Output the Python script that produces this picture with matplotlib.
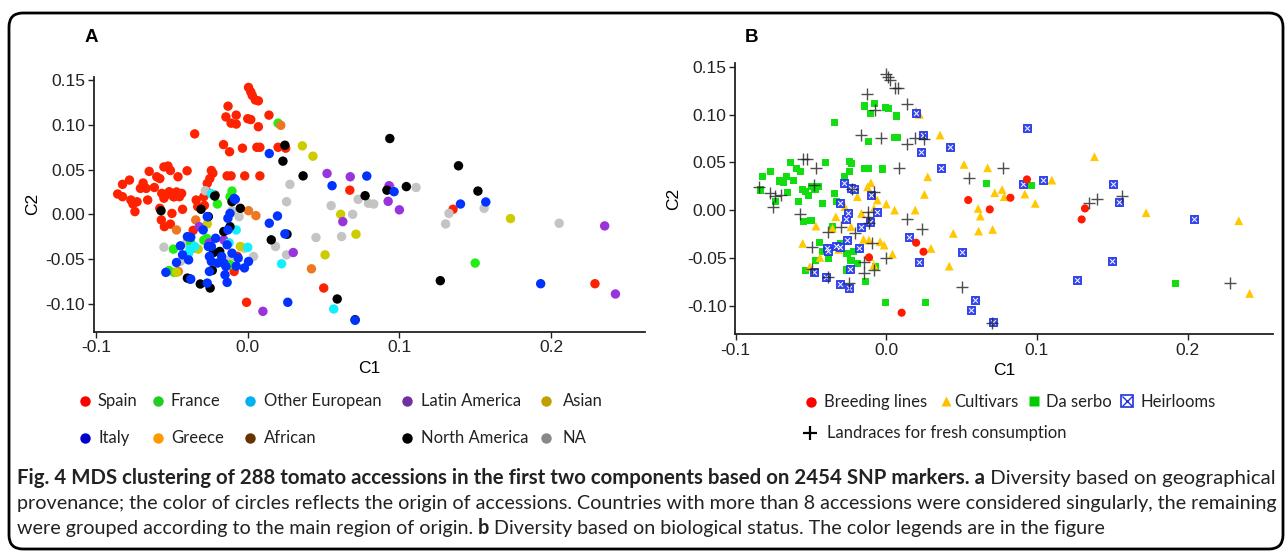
import matplotlib
matplotlib.use("Agg")
import matplotlib.pyplot as plt
from matplotlib.patches import FancyBboxPatch

W, H = 1287, 553

# ---- panel A: accessions by geographical origin (C1, C2) ----
spain = [(0.0005, 0.142), (0.002, 0.137), (0.003, 0.133), (0.005, 0.128), (0.007, 0.127),
         (-0.013, 0.121), (-0.0144, 0.109), (-0.0076, 0.111), (-0.011, 0.102), (-0.0076, 0.101),
         (0.0, 0.107), (0.002, 0.106), (0.007, 0.098), (0.014, 0.111), (-0.035, 0.090),
         (-0.016, 0.078), (-0.012, 0.070), (-0.0035, 0.074), (0.006, 0.075), (0.008, 0.075),
         (0.020, 0.075), (0.025, 0.074), (-0.0136, 0.043), (-0.011, 0.043), (-0.002, 0.043),
         (0.008, 0.043), (-0.024, 0.049), (-0.023, 0.046),
         (-0.0858, 0.0227), (-0.0826, 0.0197), (-0.0826, 0.0335), (-0.078, 0.0383), (-0.0771, 0.016),
         (-0.0757, 0.0115), (-0.0744, 0.003), (-0.073, 0.014), (-0.0708, 0.029), (-0.069, 0.035),
         (-0.067, 0.029), (-0.066, 0.016), (-0.065, 0.048), (-0.0616, 0.030), (-0.060, 0.042),
         (-0.058, 0.040), (-0.0567, 0.0234), (-0.0553, 0.053), (-0.0526, 0.054), (-0.051, 0.049),
         (-0.051, 0.0234), (-0.049, 0.0197), (-0.047, 0.025), (-0.046, 0.042), (-0.045, 0.0197),
         (-0.0436, 0.0234), (-0.040, 0.0487), (-0.034, 0.016), (-0.033, 0.0086), (-0.043, 0.0056),
         (-0.058, 0.0067), (-0.057, -0.0063), (-0.055, -0.0138), (-0.051, -0.011), (-0.050, 0.001),
         (-0.0267, 0.0346), (-0.025, 0.040), (-0.029, 0.0197), (-0.0286, 0.010), (-0.0267, 0.025),
         (-0.0553, 0.018), (-0.054, 0.0216), (-0.0518, 0.0253), (-0.0485, 0.0197),
         (0.0673, 0.027), (0.1354, 0.0056), (0.229, -0.0777), (0.0501, -0.0825), (-0.0008, -0.0985),
         (-0.036, -0.018), (-0.009, -0.064), (-0.0068, -0.047)]
na_grey = [(0.0278, 0.0335), (0.0256, 0.0141), (0.055, 0.0097), (0.0728, 0.0167), (0.0796, 0.0123),
           (0.0831, 0.0115), (0.0692, 0.0), (0.0619, -0.0249), (0.045, -0.026), (0.0256, -0.0454),
           (0.0183, -0.036), (0.094, 0.031), (0.111, 0.030), (0.1327, 0.001), (0.1305, -0.0108),
           (0.1559, 0.0067), (0.2054, -0.010), (-0.0553, -0.0368), (-0.0444, -0.0528), (-0.028, 0.0264),
           (-0.0104, 0.004), (-0.0057, -0.0026), (-0.0022, -0.038), (0.0038, -0.0472), (-0.0117, -0.051),
           (-0.0403, -0.032)]
france = [(0.020, 0.102), (-0.0117, 0.0197), (-0.0104, 0.026), (-0.020, 0.0115), (-0.049, -0.039),
          (-0.052, -0.063), (-0.0485, -0.065), (0.150, -0.0546), (-0.029, -0.029), (-0.027, -0.027),
          (-0.0117, -0.0565), (-0.0376, -0.032)]
greece = [(0.0218, 0.0996), (0.0005, 0.004), (0.0054, -0.0015), (0.042, -0.061), (-0.0343, -0.0063),
          (-0.047, -0.0175), (-0.036, -0.038), (-0.0458, -0.064)]
asian = [(0.036, 0.0766), (0.043, 0.065), (0.0613, 0.0), (0.0714, -0.0223), (0.051, -0.0454),
         (0.1733, -0.0048), (-0.0267, -0.0108), (-0.047, -0.065), (-0.0049, -0.036), (-0.0327, -0.039)]
latin = [(0.0523, 0.0457), (0.0676, 0.042), (0.0932, 0.032), (0.0926, 0.0145), (0.100, 0.005),
         (0.0627, -0.0082), (0.030, -0.0428), (0.010, -0.1086), (0.2354, -0.013), (0.2425, -0.0892),
         (-0.032, -0.0138), (-0.0253, -0.032), (-0.0158, -0.0286)]
african = [(-0.0215, 0.0215)]
other_eu = [(-0.024, 0.023), (-0.039, -0.0435), (-0.0076, -0.0175), (-0.0123, -0.032), (0.0, -0.037),
            (-0.035, -0.036), (0.0223, -0.0554), (0.0567, -0.106), (-0.038, -0.039)]
north_am = [(0.0245, 0.0773), (0.0232, 0.0595), (0.0365, 0.043), (0.0937, 0.0848), (0.139, 0.0543),
            (0.1518, 0.026), (0.1046, 0.031), (0.0918, 0.027), (0.0774, 0.0208), (0.127, -0.0743),
            (0.059, -0.0948), (0.0708, -0.118), (0.0155, -0.0286), (0.0259, -0.0223), (-0.0572, 0.004),
            (-0.0308, 0.0056), (-0.026, -0.0026), (-0.0104, 0.0141), (-0.0049, 0.0067), (-0.0218, 0.0204),
            (-0.0117, -0.0138), (-0.0158, -0.0193), (-0.0185, -0.0416), (-0.0226, -0.0428),
            (-0.0398, -0.0714), (-0.0313, -0.078), (-0.0248, -0.0825), (-0.0234, -0.0628), (-0.038, -0.0725)]
italy = [(0.0142, 0.068), (0.0785, 0.0428), (0.0556, 0.032), (0.0965, 0.0253), (0.1403, 0.0115),
         (0.157, 0.0138), (0.0142, -0.010), (0.0196, -0.0019), (0.0245, -0.0219), (0.0264, -0.0985),
         (0.1932, -0.0777), (0.0708, -0.1186), (-0.0082, 0.0167), (-0.054, -0.065), (-0.0444, -0.0353),
         (-0.0398, -0.025), (-0.0376, -0.0257), (-0.043, -0.0454), (-0.047, -0.054), (-0.039, -0.051),
         (-0.0294, -0.0175), (-0.0267, -0.0026), (-0.026, -0.036), (-0.0253, -0.0472), (-0.024, -0.0528),
         (-0.0212, -0.0268), (-0.0199, -0.0546), (-0.0158, -0.0546), (-0.0144, -0.0584), (-0.0136, -0.0342),
         (-0.0131, -0.0045), (-0.0117, 0.001), (-0.0131, -0.0175), (-0.0104, -0.0435), (-0.0063, -0.049),
         (-0.0076, -0.058), (-0.0022, -0.060), (0.0005, -0.0528), (-0.015, -0.0677), (-0.0136, -0.0762),
         (-0.0253, -0.064), (-0.0267, -0.077), (-0.0376, -0.0725), (-0.009, 0.0178), (-0.024, -0.036),
         (-0.0172, -0.0472)]

groups_a = [("Spain", spain, "#ff2200"), ("NA", na_grey, "#c4c4c4"), ("France", france, "#22ee11"),
            ("Greece", greece, "#ee7722"), ("Asian", asian, "#cccc00"), ("Latin America", latin, "#9933dd"),
            ("African", african, "#663300"), ("Other European", other_eu, "#11eeff"),
            ("North America", north_am, "#000000"), ("Italy", italy, "#0033ff")]

# legend of panel A, in two rows as printed
legend_a_row1 = [("Spain", "#ff0000"), ("France", "#22cc22"), ("Other European", "#00b0f0"),
                 ("Latin America", "#7030a0"), ("Asian", "#bfa000")]
legend_a_row2 = [("Italy", "#0000cc"), ("Greece", "#ff9900"), ("African", "#663300"),
                 ("North America", "#000000"), ("NA", "#888888")]

# ---- panel B: accessions by biological status ----
landraces = [(0.0, 0.1425), (0.0014, 0.139), (0.0022, 0.136), (0.0055, 0.128), (0.0077, 0.1275),
             (-0.0129, 0.122), (-0.0074, 0.105), (0.0137, 0.111), (-0.0165, 0.0786), (-0.0036, 0.0758),
             (0.0137, 0.069), (0.0192, 0.0758), (0.0253, 0.074), (-0.055, 0.053), (-0.0527, 0.054),
             (-0.0467, 0.0436), (0.0082, 0.0436), (-0.0843, 0.0244), (-0.0775, 0.0175), (-0.0742, 0.0147),
             (-0.0755, 0.0035), (-0.070, 0.0157), (-0.048, 0.026), (-0.057, -0.0045), (-0.0385, -0.0227),
             (-0.030, -0.0175), (-0.0206, -0.0244), (-0.0124, -0.0017), (-0.0124, -0.007), (-0.0115, -0.014),
             (-0.0082, 0.0192), (-0.0096, -0.035), (0.0137, -0.0094), (0.0234, -0.0203), (0.055, 0.0332),
             (0.0777, 0.0436), (-0.049, -0.0384), (-0.0494, -0.0622), (-0.0385, -0.0698), (-0.0247, -0.0761),
             (-0.0151, -0.0541), (-0.0151, -0.0656), (-0.0082, -0.0628), (0.0, -0.0506), (0.050, -0.081),
             (0.070, -0.118), (0.1346, 0.007), (0.1396, 0.0115), (0.1566, 0.0147), (0.228, -0.0768),
             (-0.0228, 0.0216)]
da_serbo = [(-0.0143, 0.109), (-0.0077, 0.1117), (-0.0104, 0.101), (-0.0008, 0.1075), (0.0014, 0.1065),
            (0.0069, 0.0985), (-0.0343, 0.0915), (-0.0118, 0.0716), (0.0055, 0.0758), (0.0077, 0.0758),
            (-0.0247, 0.0506), (-0.0228, 0.0489), (-0.0143, 0.0436), (-0.0118, 0.0436), (-0.0027, 0.043),
            (-0.0404, 0.0496), (-0.0637, 0.0496), (-0.0596, 0.0436), (-0.0571, 0.0408), (-0.0824, 0.0349),
            (-0.077, 0.0401), (-0.0709, 0.0304), (-0.0665, 0.0349), (-0.0681, 0.0286), (-0.0613, 0.0314),
            (-0.0835, 0.021), (-0.0654, 0.0182), (-0.0582, 0.0087), (-0.0558, 0.0216), (-0.0536, 0.0192),
            (-0.0516, 0.015), (-0.0495, 0.0244), (-0.0473, 0.0216), (-0.0448, 0.0244), (-0.0736, 0.0087),
            (-0.0426, 0.007), (-0.0343, 0.0175), (-0.033, 0.0087), (-0.0275, 0.0349), (-0.0242, 0.0401),
            (-0.055, -0.0122), (-0.050, -0.0105), (-0.0357, -0.0175), (-0.0445, -0.0342), (-0.0426, -0.0436),
            (-0.0385, -0.0506), (-0.0467, -0.0524), (-0.0536, -0.0635), (-0.0302, -0.035), (-0.0261, -0.0454),
            (-0.022, -0.0436), (-0.0234, -0.0524), (-0.0261, -0.0628), (-0.0192, -0.0559), (-0.0137, -0.0751),
            (-0.0069, -0.0594), (-0.0008, -0.097), (0.0261, -0.097), (0.0668, 0.028), (0.0962, 0.0258),
            (0.1923, -0.0768)]
cultivars = [(0.0198, 0.1037), (0.022, 0.1002), (0.0357, 0.0786), (0.0516, 0.0478), (0.0673, 0.0443),
             (0.0275, 0.0349), (0.1099, 0.0314), (0.1382, 0.0559), (0.0253, 0.0164), (0.072, 0.0182),
             (0.0769, 0.0216), (0.0783, 0.014), (0.092, 0.0168), (0.0989, 0.007), (0.061, 0.0017),
             (0.0624, -0.0063), (0.0613, -0.022), (0.0706, -0.0203), (0.0445, -0.0244), (0.0297, -0.0402),
             (0.0418, -0.0587), (0.1725, -0.0028), (0.234, -0.0112), (0.2412, -0.0873), (-0.0102, 0.0286),
             (-0.0124, 0.0244), (-0.0192, 0.014), (-0.006, 0.0105), (0.0, 0.0063), (0.0055, 0.0),
             (0.0192, 0.0), (-0.0082, 0.0017), (-0.0165, -0.0035), (-0.0467, -0.0168), (-0.0555, -0.0349),
             (-0.0335, -0.007), (-0.0357, -0.0192), (-0.0151, -0.0307), (-0.0115, -0.0314), (-0.0041, -0.0332),
             (-0.0014, -0.0367), (0.0041, -0.0461), (-0.044, -0.0496), (-0.0508, -0.0594), (-0.0234, -0.0175),
             (-0.0275, 0.0035), (-0.0316, -0.0412), (-0.011, -0.0489), (-0.0082, -0.0576)]
breeding = [(0.0934, 0.0321), (0.0824, 0.0129), (0.0544, 0.0105), (0.0687, 0.0007), (0.1319, 0.0017),
            (0.1297, -0.0098), (0.0198, -0.0342), (0.0247, -0.0436), (-0.0115, -0.0496), (0.0102, -0.1075)]
heirlooms = [(0.0934, 0.0855), (0.0242, 0.0786), (0.0426, 0.0663), (0.0228, 0.0604), (0.0363, 0.0436),
             (0.1038, 0.0314), (0.0907, 0.0272), (0.1505, 0.0269), (0.1547, 0.008), (0.2041, -0.0094),
             (0.0151, -0.0279), (0.0214, -0.0541), (0.0503, -0.0436), (0.1497, -0.0534), (0.1264, -0.0733),
             (0.0591, -0.0943), (0.0563, -0.1047), (0.0709, -0.117), (0.020, 0.1013), (-0.028, 0.0279),
             (-0.0234, 0.0234), (-0.0214, 0.0216), (-0.0104, 0.0157), (-0.031, 0.0077), (-0.0253, -0.0028),
             (-0.0266, -0.0094), (-0.0063, -0.0017), (-0.011, -0.0122), (-0.0165, -0.0175), (-0.0261, -0.0314),
             (-0.0393, -0.0402), (-0.0385, -0.0426), (-0.0335, -0.0377), (-0.031, -0.0391), (-0.0184, -0.0402),
             (-0.0242, -0.0622), (-0.0481, -0.0646), (-0.0398, -0.0698), (-0.031, -0.0775), (-0.0247, -0.0821)]

legend_b = ["Breeding lines", "Cultivars", "Da serbo", "Heirlooms", "Landraces for fresh consumption"]

x_ticks = [-0.1, 0.0, 0.1, 0.2]
y_ticks = [-0.10, -0.05, 0.0, 0.05, 0.10, 0.15]

caption_lines = [
    [("Fig. 4 MDS clustering of 288 tomato accessions in the first two components based on 2454 SNP markers. a", "bold"),
     (" Diversity based on geographical", "normal")],
    [("provenance; the color of circles reflects the origin of accessions. Countries with more than 8 accessions "
      "were considered singularly, the remaining", "normal")],
    [("were grouped according to the main region of origin. ", "normal"), ("b", "bold"),
     (" Diversity based on biological status. The color legends are in the figure", "normal")],
]

TICK_FONT = ["Liberation Sans", "DejaVu Sans"]
TEXT_FONT = ["Lato", "DejaVu Sans"]

fig = plt.figure(figsize=(W / 100, H / 100), dpi=100)


def px_axes(left, top, right, bottom):
    return fig.add_axes([left / W, 1 - bottom / H, (right - left) / W, (bottom - top) / H])


def style_axes(ax, xlim, ylim):
    ax.set_xlim(*xlim)
    ax.set_ylim(*ylim)
    ax.set_xticks(x_ticks)
    ax.set_xticklabels([f"{v:.1f}" for v in x_ticks])
    ax.set_yticks(y_ticks)
    ax.set_yticklabels([f"{v:.2f}" for v in y_ticks])
    for side in ("top", "right"):
        ax.spines[side].set_visible(False)
    for side in ("left", "bottom"):
        ax.spines[side].set_linewidth(1.3)
        ax.spines[side].set_color("#222222")
    ax.tick_params(length=4, width=1.0, color="#222222", labelsize=12.5, pad=2)
    for lab in ax.get_xticklabels() + ax.get_yticklabels():
        lab.set_family(TICK_FONT)
        lab.set_color("#222222")
    ax.set_xlabel("C1", family=TICK_FONT, fontsize=12.5, labelpad=4)
    ax.set_ylabel("C2", family=TICK_FONT, fontsize=12.5, labelpad=4)


def xy(points):
    return [p[0] for p in points], [p[1] for p in points]


# panel A
ax_a = px_axes(93.7, 76.7, 645, 331.7)
for name, pts, col in groups_a:
    gx, gy = xy(pts)
    ax_a.scatter(gx, gy, s=46, color=col, edgecolors="none", zorder=3)
style_axes(ax_a, (-0.1016, 0.262), (-0.1314, 0.154))

# panel B
ax_b = px_axes(734.9, 63.3, 1273.4, 334.3)
gx, gy = xy(da_serbo)
ax_b.scatter(gx, gy, marker="s", s=26, color="#11dd11", edgecolors="none", zorder=3)
gx, gy = xy(cultivars)
ax_b.scatter(gx, gy, marker="^", s=40, color="#ffc800", edgecolors="none", zorder=3)
gx, gy = xy(heirlooms)
ax_b.scatter(gx, gy, marker="s", s=34, color="#3346f2", edgecolors="#2233dd", linewidths=0.6, zorder=4)
ax_b.scatter(gx, gy, marker="x", s=12, color="white", linewidths=0.7, zorder=5)
gx, gy = xy(breeding)
ax_b.scatter(gx, gy, marker="o", s=34, color="#ff1a00", edgecolors="none", zorder=6)
gx, gy = xy(landraces)
ax_b.scatter(gx, gy, marker="+", s=80, color="#222222", linewidths=1.0, alpha=0.8, zorder=7)
style_axes(ax_b, (-0.1005, 0.257), (-0.1301, 0.1537))

# overlay in pixel coordinates for frame, panel letters, legends and caption
ov = fig.add_axes([0, 0, 1, 1])
ov.set_xlim(0, W)
ov.set_ylim(H, 0)
ov.axis("off")

ov.add_patch(FancyBboxPatch((9, 13), 1274, 536, boxstyle="round,pad=0,rounding_size=14",
                            fill=False, edgecolor="black", linewidth=2.0))
ov.text(91, 38, "A", fontsize=13.5, weight="bold", family="Liberation Sans", ha="center", va="center")
ov.text(752, 38, "B", fontsize=13.5, weight="bold", family="Liberation Sans", ha="center", va="center")

marker_x = [85, 158, 250, 407, 546]
label_x = [98, 171, 264, 421, 563]
for row_y, row in ((401, legend_a_row1), (438, legend_a_row2)):
    for (lab, col), mx, lx in zip(row, marker_x, label_x):
        ov.plot(mx, row_y, "o", ms=7.5, color=col, mec="none")
        ov.text(lx, row_y, lab, fontsize=12, family=TEXT_FONT, va="center", ha="left", color="#222222")

ov.plot(811, 402, "o", ms=7.5, color="#ff0000", mec="none")
ov.text(824, 402, legend_b[0], fontsize=12, family=TEXT_FONT, va="center", color="#222222")
ov.plot(946, 401, "^", ms=7.5, color="#ffbf00", mec="none")
ov.text(954, 402, legend_b[1], fontsize=12, family=TEXT_FONT, va="center", color="#222222")
ov.plot(1034, 401, "s", ms=7, color="#00cc00", mec="none")
ov.text(1046, 402, legend_b[2], fontsize=12, family=TEXT_FONT, va="center", color="#222222")
ov.plot(1127, 401, "s", ms=8, mfc="white", mec="#2233dd", mew=1.2)
ov.plot(1127, 401, "x", ms=6.5, color="#2233dd", mew=1.0)
ov.text(1140, 402, legend_b[3], fontsize=12, family=TEXT_FONT, va="center", color="#222222")
ov.plot(810, 433, "+", ms=10, color="black", mew=1.6)
ov.text(827, 433, legend_b[4], fontsize=12, family=TEXT_FONT, va="center", color="#222222")

# caption: lines 1 and 2 are justified to the frame width
renderer = fig.canvas.get_renderer()
cap_left, cap_right = 17, 1275


def line_width(parts, size):
    total = 0
    for txt, wt in parts:
        t = ov.text(0, 0, txt, fontsize=size, weight=wt, family=TEXT_FONT)
        total += t.get_window_extent(renderer).width
        t.remove()
    return total


sizes = []
for i, parts in enumerate(caption_lines):
    if i < 2:
        s = 13.0
        for _ in range(3):
            s *= (cap_right - cap_left) / line_width(parts, s)
        sizes.append(s)
    else:
        sizes.append(sizes[1])

for parts, base_y, size in zip(caption_lines, (484, 509, 534), sizes):
    x = cap_left
    for txt, wt in parts:
        t = ov.text(x, base_y, txt, fontsize=size, weight=wt, family=TEXT_FONT,
                    va="baseline", ha="left", color="#222222")
        x += t.get_window_extent(renderer).width

fig.savefig("out.png", dpi=100)
